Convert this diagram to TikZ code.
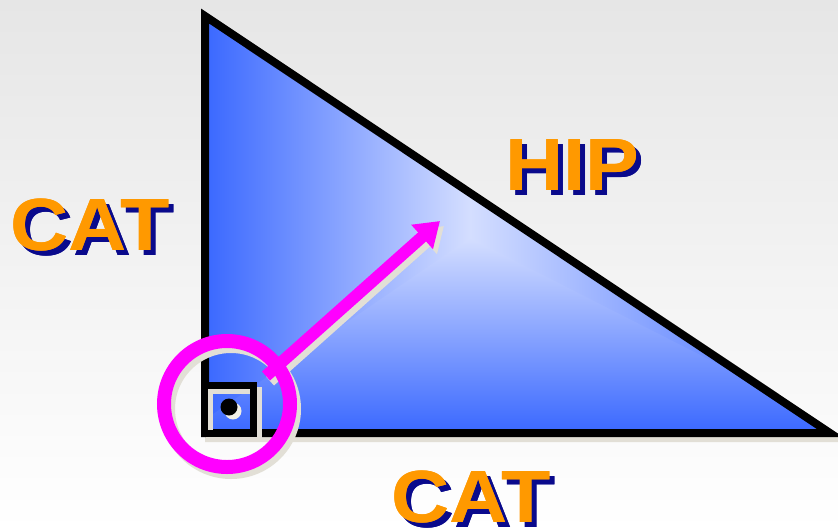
\documentclass[tikz,border=0pt]{standalone}
\usepackage{fontspec}
\usepackage[outline]{contour}
\newfontfamily\bigfont[FakeStretch=1.09]{Liberation Sans Bold}
\usetikzlibrary{arrows.meta}
\definecolor{bgtop}{HTML}{E6E6E6}
\definecolor{triblue}{HTML}{3A68FF}
\definecolor{trilight}{HTML}{D4DEFF}
\definecolor{shadowgray}{HTML}{E2DFD6}
\definecolor{dotshadow}{HTML}{F2F0E6}
\definecolor{magentac}{HTML}{FF00FF}
\definecolor{labelorange}{HTML}{FF9900}
\definecolor{labelnavy}{HTML}{0A0A8C}
\contourlength{1.7pt}
\contournumber{24}
\newcommand{\fatorange}[1]{\contour{labelorange}{\textcolor{labelorange}{#1}}}
\newcommand{\fatnavy}[1]{\contour{labelnavy}{\textcolor{labelnavy}{#1}}}
\tikzset{
  lbl/.style={anchor=base west, inner sep=0pt, font=\bigfont\fontsize{74}{80}\selectfont},
  lblshadow/.style={lbl},
  lbltext/.style={lbl}
}
\begin{document}
\begin{tikzpicture}[x=1pt,y=-1pt]
\useasboundingbox (0,0) rectangle (838,531);
% background
\shade[top color=bgtop, bottom color=white] (0,0) rectangle (838,531);
% triangle coordinates
\coordinate (T) at (205,16);
\coordinate (B) at (205,433);
\coordinate (R) at (830,433);
\coordinate (C) at (470,238);
% triangle shadow
\draw[shadowgray, line width=8pt, line join=miter] ([shift={(4,5)}]T) -- ([shift={(4,5)}]B) -- ([shift={(4,5)}]R) -- cycle;
% triangle fill: rectangular "from centre" gradient
\begin{scope}
\clip (T) -- (B) -- (R) -- cycle;
\fill[trilight] (T) -- (B) -- (R) -- cycle;
\begin{scope}
\clip (205,0) -- (205,441) -- (213,441) -- (C) -- (472,0) -- cycle;
\shade[left color=triblue, right color=trilight] (205,0) rectangle (470,441);
\end{scope}
\begin{scope}
\clip (C) -- (468,0) -- (838,0) -- (838,441) -- (822,441) -- cycle;
\shade[left color=trilight, right color=triblue] (470,0) rectangle (830,441);
\end{scope}
\begin{scope}
\clip (197,425) -- (197,441) -- (838,441) -- (838,425) -- (C) -- cycle;
\shade[top color=trilight, bottom color=triblue] (197,238) rectangle (838,433);
\end{scope}
\end{scope}
\draw[black, line width=8pt, line join=miter, miter limit=20] (T) -- (B) -- (R) -- cycle;
% right-angle square
\draw[shadowgray, line width=7pt] (209.5,390.5) rectangle (258.5,438.5);
\draw[black, line width=7pt] (204.5,385.5) rectangle (253.5,433.5);
% dot
\fill[dotshadow] (233,411) circle (8.5);
\fill[black] (229,407) circle (8.5);
% arrow shadow and ring shadow
\coordinate (as) at (270,381);
\coordinate (ae) at (444,226);
\draw[shadowgray, line width=12pt, -{Triangle[length=24pt,width=31pt]}] (as) -- (ae);
\draw[shadowgray, line width=14pt] (231,409) circle (63);
% arrow and ring
\coordinate (ms) at (266,376);
\coordinate (me) at (440,221);
\draw[magentac, line width=12pt, -{Triangle[length=24pt,width=31pt]}] (ms) -- (me);
\draw[magentac, line width=14pt] (227,404) circle (63);
% labels
\node[lblshadow] (catlS) at (15,255) {\fatnavy{CAT}};
\node[lbltext] (catl) at (10,250) {\fatorange{CAT}};
\node[lblshadow] (hipS) at (510,195) {\fatnavy{HIP}};
\node[lbltext] (hip) at (505,190) {\fatorange{HIP}};
\node[lblshadow] (catbS) at (396,527) {\fatnavy{CAT}};
\node[lbltext] (catb) at (391,522) {\fatorange{CAT}};
\end{tikzpicture}
\end{document}
